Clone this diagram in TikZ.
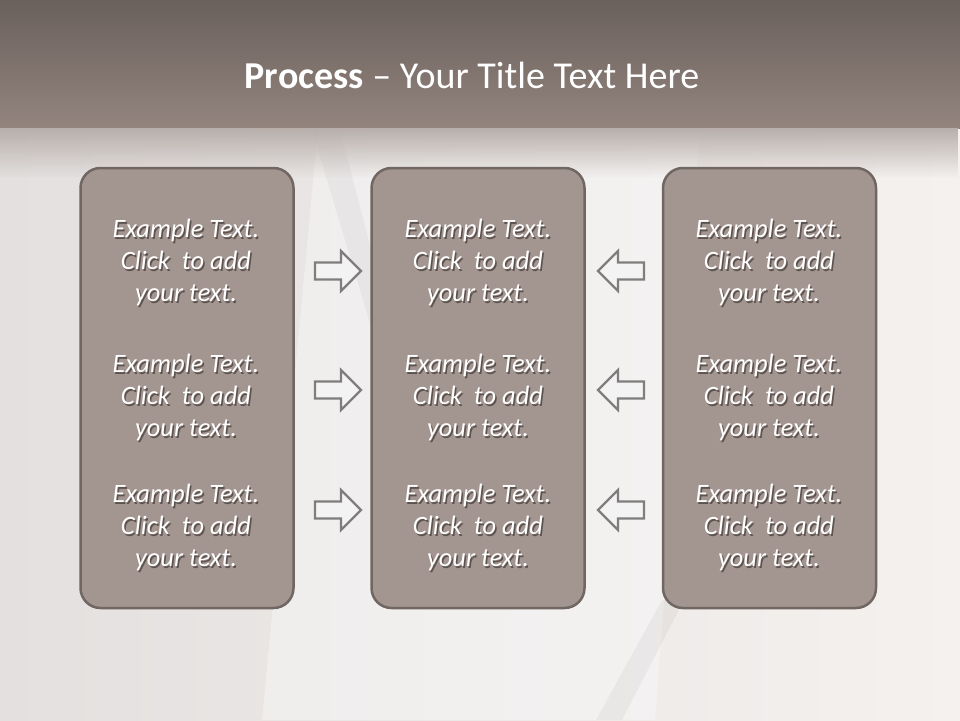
\documentclass[tikz,border=0pt]{standalone}
\usepackage{fontspec}
\setmainfont{Carlito}
\usetikzlibrary{fadings}
\definecolor{bandtop}{RGB}{106,96,92}
\definecolor{bandbot}{RGB}{147,132,126}
\definecolor{bandfade}{RGB}{184,175,171}
\definecolor{paperleft}{RGB}{227,224,223}
\definecolor{paperright}{RGB}{244,241,239}
\definecolor{panelfill}{RGB}{163,149,144}
\definecolor{panelline}{RGB}{112,102,98}
\definecolor{textshade}{RGB}{92,82,78}
\definecolor{arrowline}{RGB}{128,126,125}
\definecolor{arrowfill}{RGB}{243,243,243}
% white text line with a soft drop shadow under it
\newcommand\shline[1]{\leavevmode\rlap{\kern1.5pt\raisebox{-2pt}{\textcolor{textshade}{#1}}}#1}
\newcommand\cardtext{\shline{Example Text.}\\\shline{Click~ to add}\\\shline{your text.}}
\begin{document}
\begin{tikzpicture}[x=1pt,y=-1pt,
    panel/.style={draw=panelline, line width=2.5pt, fill=panelfill,
      rounded corners=20pt, minimum width=213pt, minimum height=440pt},
    bodytext/.style={text=white, align=center, inner sep=0pt,
      font=\itshape\fontsize{26.5}{32}\selectfont},
    blockarrow/.style={draw=arrowline, line width=2.2pt, fill=arrowfill, line join=miter},
    title/.style={text=white, anchor=base, font=\fontsize{38}{44}\selectfont}]
  \useasboundingbox (0,0) rectangle (960,720);

  % paper and top band
  \fill[left color=paperleft, right color=paperright] (0,0) rectangle (960,720);
  \fill[white, opacity=0.35] (318,130) -- (700,130) -- (655,720) -- (262,720) -- cycle;
  \fill[black, opacity=0.035] (312,130) -- (340,130) -- (392,330) -- (372,330) -- cycle;
  \fill[black, opacity=0.04] (662,600) -- (684,600) -- (622,720) -- (596,720) -- cycle;
  \fill[top color=bandtop, bottom color=bandbot] (0,0) rectangle (960,128);
  \fill[bandfade, path fading=south] (0,128) rectangle (960,178);

  \node[title] (title) at (472,88) {\textbf{Process} -- Your Title Text Here};

  % panels
  \node[panel] (left) at (187,388) {};
  \node[panel] (middle) at (478,388) {};
  \node[panel] (right) at (769.5,388) {};

  % texts
  \foreach \col/\x in {l/186, m/478, r/769}
    \foreach \row/\y in {1/263, 2/398, 3/528}
      \node[bodytext] (t\col\row) at (\x,\y) {\cardtext};

  % arrows towards the middle panel
  \foreach \y in {271, 390, 510} {
    \draw[blockarrow] (315,\y-8.5) -- (341,\y-8.5) -- (341,\y-20) -- (361,\y)
      -- (341,\y+20) -- (341,\y+8.5) -- (315,\y+8.5) -- cycle;
    \draw[blockarrow] (644,\y-8.5) -- (618,\y-8.5) -- (618,\y-20) -- (598,\y)
      -- (618,\y+20) -- (618,\y+8.5) -- (644,\y+8.5) -- cycle;
  }
\end{tikzpicture}
\end{document}
